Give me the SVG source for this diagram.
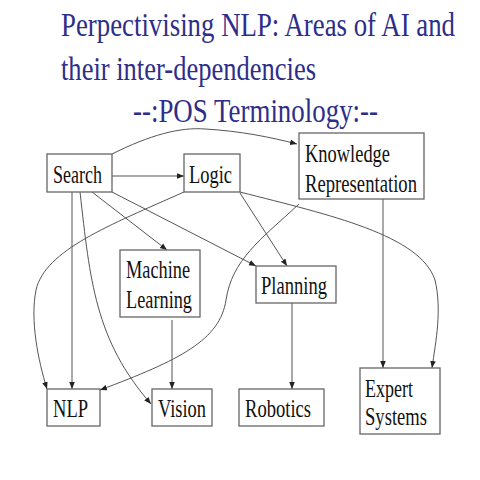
<svg xmlns="http://www.w3.org/2000/svg" width="480" height="480" viewBox="0 0 480 480">
<style>
.title{font-family:"Liberation Serif","Times New Roman",serif;font-size:27px;fill:#2e2e8a}
.box{fill:#fff;stroke:#666;stroke-width:1.3}
.lbl{font-family:"Liberation Serif","Times New Roman",serif;font-size:26px;fill:#111}
.edge{fill:none;stroke:#555;stroke-width:1}
</style>
<defs>
<marker id="ah" viewBox="0 0 10 10" refX="10" refY="5" markerWidth="7" markerHeight="7" orient="auto" markerUnits="userSpaceOnUse">
<path d="M0,1 L10,5 L0,9 z" fill="#222"/>
</marker>
</defs>
<rect width="480" height="480" fill="#fff"/>
<g id="title">
<text class="title" transform="translate(61,36) scale(1,1.22)" textLength="394" lengthAdjust="spacingAndGlyphs">Perpectivising NLP: Areas of AI and</text>
<text class="title" transform="translate(61,80) scale(1,1.22)" textLength="255" lengthAdjust="spacingAndGlyphs">their inter-dependencies</text>
<text class="title" transform="translate(133,122) scale(1,1.22)" textLength="245" lengthAdjust="spacingAndGlyphs">--:POS Terminology:--</text>
</g>
<g id="connectors">
<path class="edge" marker-end="url(#ah)" d="M112,154 C150,135 180,127 205,129 C240,131 270,137 297,144"/>
<path class="edge" marker-end="url(#ah)" d="M112,176 L184,176"/>
<path class="edge" marker-end="url(#ah)" d="M72,192 L72,389"/>
<path class="edge" marker-end="url(#ah)" d="M80,192 C90,280 95,340 151,404"/>
<path class="edge" marker-end="url(#ah)" d="M92,192 L167,250"/>
<path class="edge" marker-end="url(#ah)" d="M112,192 L256,266"/>
<path class="edge" marker-end="url(#ah)" d="M184,192 C110,225 45,250 36,290 C30,320 38,360 47,389"/>
<path class="edge" marker-end="url(#ah)" d="M240,193 L287,266"/>
<path class="edge" marker-end="url(#ah)" d="M240,192 C330,215 420,235 435,280 C442,310 436,340 432,368"/>
<path class="edge" marker-end="url(#ah)" d="M299,204 C260,240 232,260 226,300 C220,340 180,360 100,390"/>
<path class="edge" marker-end="url(#ah)" d="M383,199 L383,368"/>
<path class="edge" marker-end="url(#ah)" d="M172,320 L172,389"/>
<path class="edge" marker-end="url(#ah)" d="M292,303 L292,389"/>
</g>
<g id="search"><rect class="box" x="47" y="154" width="65" height="38"/><text class="lbl" x="53" y="183" textLength="49" lengthAdjust="spacingAndGlyphs">Search</text></g>
<g id="logic"><rect class="box" x="184" y="154" width="56" height="38"/><text class="lbl" x="189" y="183" textLength="43" lengthAdjust="spacingAndGlyphs">Logic</text></g>
<g id="knowledge"><rect class="box" x="299" y="133" width="125" height="66"/><text class="lbl" x="305" y="162" textLength="85" lengthAdjust="spacingAndGlyphs">Knowledge</text><text class="lbl" x="305" y="192" textLength="112" lengthAdjust="spacingAndGlyphs">Representation</text></g>
<g id="ml"><rect class="box" x="120" y="250" width="80" height="67"/><text class="lbl" x="126" y="278" textLength="64" lengthAdjust="spacingAndGlyphs">Machine</text><text class="lbl" x="126" y="308" textLength="66" lengthAdjust="spacingAndGlyphs">Learning</text></g>
<g id="planning"><rect class="box" x="256" y="266" width="80" height="37"/><text class="lbl" x="261" y="294" textLength="66" lengthAdjust="spacingAndGlyphs">Planning</text></g>
<g id="nlp"><rect class="box" x="47" y="389" width="53" height="37"/><text class="lbl" x="53" y="417" textLength="35" lengthAdjust="spacingAndGlyphs">NLP</text></g>
<g id="vision"><rect class="box" x="152" y="389" width="60" height="37"/><text class="lbl" x="158" y="417" textLength="48" lengthAdjust="spacingAndGlyphs">Vision</text></g>
<g id="robotics"><rect class="box" x="239" y="389" width="85" height="37"/><text class="lbl" x="245" y="417" textLength="66" lengthAdjust="spacingAndGlyphs">Robotics</text></g>
<g id="expert"><rect class="box" x="360" y="368" width="80" height="66"/><text class="lbl" x="365" y="397" textLength="48" lengthAdjust="spacingAndGlyphs">Expert</text><text class="lbl" x="365" y="425" textLength="62" lengthAdjust="spacingAndGlyphs">Systems</text></g>
</svg>
